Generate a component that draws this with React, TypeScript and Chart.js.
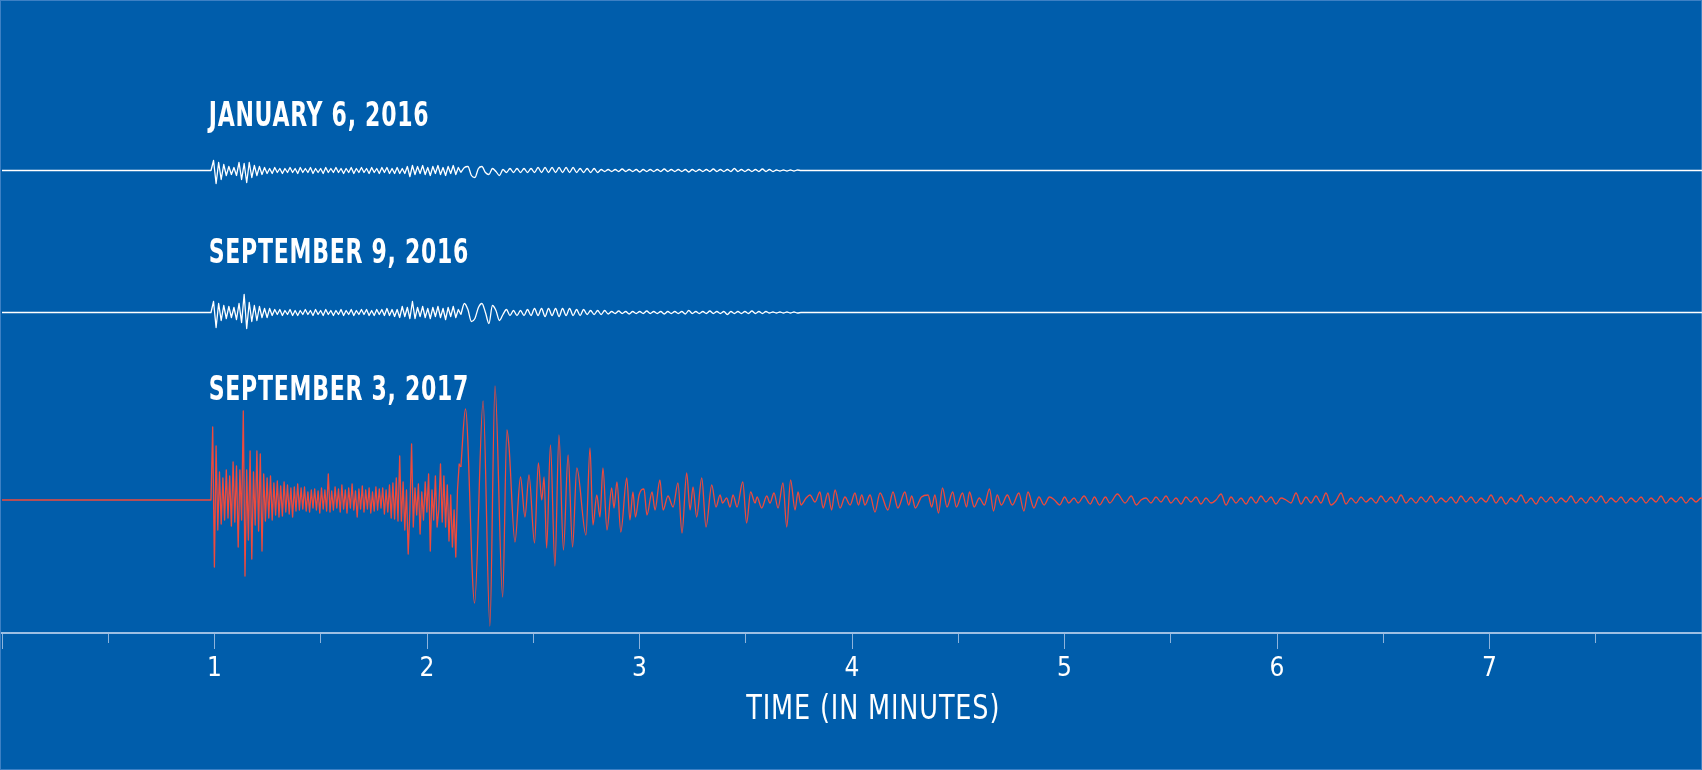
import { useEffect, useRef } from 'react';
import { Chart, registerables } from 'chart.js';

Chart.register(...registerables);

// ---------- axis ----------
const minuteTicks = [0, 1, 2, 3, 4, 5, 6, 7];
const minuteTickLabels = ['', '1', '2', '3', '4', '5', '6', '7'];
const halfMinuteTicks = [0, 0.5, 1, 1.5, 2, 2.5, 3, 3.5, 4, 4.5, 5, 5.5, 6, 6.5, 7, 7.5];
const axisTitle = 'TIME (IN MINUTES)';

// ---------- traces ----------
const traceNames = ['JANUARY 6, 2016', 'SEPTEMBER 9, 2016', 'SEPTEMBER 3, 2017'];
const traceBaselines = [329.5, 187.5, 0]; // amplitude units
const labelLevels = [374, 237, 100];
const onsetTime = 0.9835; // minutes

// January 6, 2016
const jan2016CodaStep = 0.012;
const jan2016Coda = [
  0, 10, -13, 8, -9, 6, -5, 4, -4, 3,
  -5, 8, -9, 7, -12, 8, -7, 5, -5, 4,
  -4, 3, -3, 2, -3, 3, -2,
  2, -3, 2, -2, 3, -2, 2, -3, 3, -2,
  2, -2, 3, -3, 2, -2, 2, -3, 3, -2,
  2, -2, 3, -2, 2, -3, 2, -2, 3, -3,
  2, -2, 3, -2, 2, -3, 3, -2, 2, -3,
  3, -2, 3, -3, 2, -3, 3, -3, 2, -3,
  4, -6, 5, -4, 4, -3, 5, -4, 3, -5,
  4, -3, 5, -4, 3, -5, 4, -3, 5, -4,
  3, -2,
];
const jan2016SurfaceStep = 0.0165;
const jan2016Surface = [
  -2, 3, 4, -5, -7, 2, 4, -2, -4, 2,
  -1, -5, 1, -2, 2, -2, 2, -2, 2, -2,
  2, -2, 3, -2, 3, -2, 3, -2, 3, -2,
  3, -2, 3, -2, 2, -2, 2, -2, 2, -2,
  1, -1,
  1, -1, 1, -1, 1.5, -1, 1, -1, 1, -1.5,
  1, -1, 1, -1, 1, -1, 1.5, -1, 1, -1,
  1, -1, 1, -1.5, 1, -1, 1, -1, 1, -1,
  1.5, -1, 1, -1, 1, -1, 2, -1, 1, -1,
  1, -1, 1, -1, 1.5, -1, 1, -1, 0.5, -0.5,
  0.5, -0.5, 0.5, -0.5, 0.5, 0,
];

// September 9, 2016
const sep2016CodaStep = 0.012;
const sep2016Coda = [
  0, 11, -15, 9, -8, 7, -6, 6, -5, 5,
  -7, 9, -10, 18, -16, 10, -9, 7, -8, 6,
  -5, 4, -5, 4, -3, 3,
  -2, 3, -3, 2, -2, 3, -3, 2, -3, 2,
  -2, 3, -2, 2, -3, 3, -2, 2, -3, 3,
  -2, 2, -3, 2, -2, 3, -3, 2, -2, 3,
  -3, 2, -2, 3, -2, 3, -3, 2, -3, 3,
  -2, 3, -3, 4, -3, 3, -4, 3,
  -5, 6, -4, 5, -6, 11, -6, 5, -4, 6,
  -5, 4, -6, 5, -4, 6, -5, 4, -7, 5,
  -4, 6, -5, 3, -2,
];
const sep2016SurfaceStep = 0.0165;
const sep2016Surface = [
  -2, 9, 3, -9, -6, 5, 9, 0, -11, 7,
  2, -8, -2, 3, -3, 2, -3, 2, -3, 3,
  -3, 4, -3, 4, -4, 4, -3, 4, -4, 4,
  -3, 4, -3, 3, -3, 3, -2, 2, -2, 2,
  -2, 2,
  -1.5, 1, -1, 1.5, -1, 1, -1.5, 1, -1, 1,
  -1, 1.5, -1, 1, -1, 1, -1.5, 1, -1, 1,
  -1, 1, -1.5, 2, -1, 1, -1, 1, -1, 1.5,
  -1, 1, -1, 1, -2, 1, -1, 1, -1, 1,
  -1, 1.5, -1, 1, -1, 1, -0.5, 0.5, -0.5, 0.5,
  -0.5, 0.5, -0.5, 0.5, -0.5, 0,
];

// September 3, 2017
const sep2017CodaStep = 0.008;
const sep2017Coda = [
  0, 73, -67, 54, -30, 28, -24, 22, -20, 30,
  -18, 24, -26, 38, -22, 34, -47, 30, -20, 89,
  -76, 30, -40, 49, -59, 28, -25, 49, -31, 46,
  -51, 26, -21, 22, -18, 24, -20, 17, -15, 19,
  -17, 14, -16, 18, -12, 15, -14, 12, -17, 13,
  -11, 16, -10, 12, -9, 13, -11, 8, -12, 10,
  -8, 11, -10, 9, -13, 12, -9, 10, -11, 26,
  -12, 9, -10, 13, -8, 11, -12, 15, -9, 10,
  -13, 12, -8, 16, -10, 9, -17, 11, -9, 14,
  -12, 10, -9, 12, -13, 8, -11, 13, -10, 11,
  -8, 12, -14, 10, -12, 15, -18, 17, -19, 22,
  -21, 44, -21, 18, -30, 10, -54, -10, 56, -27,
  12, -15, 16, -34, 8, -20, 18, -12, 26, -51,
  10, -20, 24, -27, -10, 36, -22, 24, -27, 15,
  -41, 5, -47, -10, -57, 10, 36, 33,
];
// surface-wave turning points: [minutes, amplitude]
const sep2017SurfacePeaks: [number, number][] = [
  [2.181, 91], [2.224, -103], [2.264, 99], [2.296, -126], [2.32, 114],
  [2.356, -97], [2.376, 70], [2.386, 53], [2.414, -42], [2.44, 23],
  [2.461, -17], [2.48, 25], [2.506, -43], [2.524, 37], [2.54, 0],
  [2.551, 23], [2.563, -48], [2.581, 55], [2.602, -66], [2.621, 65],
  [2.642, -50], [2.664, 45], [2.685, -47], [2.705, 32], [2.748, -35],
  [2.767, 52], [2.781, -25], [2.799, 5], [2.814, -17], [2.828, 32],
  [2.847, -30], [2.869, 12], [2.88, -8], [2.894, 18], [2.912, -32],
  [2.94, 22], [2.955, -20], [2.969, 8], [2.981, -17], [2.998, 5],
  [3.021, 11], [3.035, -15], [3.059, 8], [3.073, -10], [3.096, 20],
  [3.111, -10], [3.134, 4], [3.158, -7], [3.181, 17], [3.2, -33],
  [3.222, 27], [3.238, -10], [3.252, 13], [3.269, -17], [3.293, 22],
  [3.313, -27], [3.34, 15], [3.36, -7], [3.379, 5], [3.391, -3],
  [3.41, 2], [3.426, -7], [3.44, 5], [3.459, -7], [3.486, 18],
  [3.504, -23], [3.523, 8], [3.544, -3], [3.553, 3], [3.575, -8],
  [3.599, 4], [3.614, -3], [3.633, 7], [3.652, -8], [3.675, 17],
  [3.693, -27], [3.711, 20], [3.732, -10], [3.746, 8], [3.76, -5],
  [3.784, 2], [3.802, 5], [3.826, -2], [3.849, 8], [3.864, -8],
  [3.887, 7], [3.904, -10], [3.92, 10], [3.944, -8], [3.967, 3],
  [3.991, -5], [4.014, 7], [4.03, -5], [4.046, 5], [4.061, -5],
  [4.085, 5], [4.108, -12], [4.132, 7], [4.169, -10], [4.193, 8],
  [4.216, -8], [4.249, 8], [4.267, -5], [4.281, 4], [4.298, -8],
  [4.327, 3], [4.358, 5], [4.375, -7], [4.39, 5], [4.407, -13],
  [4.426, 12], [4.447, -7], [4.474, 8], [4.491, -7], [4.52, 7],
  [4.539, -7], [4.553, 8], [4.575, -7], [4.599, 2], [4.623, -5],
  [4.647, 11], [4.666, -11], [4.683, 5], [4.703, -5], [4.731, 5],
  [4.755, -5], [4.785, 7], [4.809, -11], [4.828, 8], [4.856, -8],
  [4.88, 3], [4.904, -5], [4.929, 3], [4.953, 0], [4.977, -5],
  [5.001, 3], [5.02, -3], [5.045, 2], [5.064, -3], [5.092, 4],
  [5.121, -4], [5.141, 3], [5.165, -5], [5.193, 3], [5.213, -3],
  [5.249, 6], [5.285, -3], [5.314, 4], [5.338, -5], [5.36, 0],
];
const sep2017TailStart = 5.3835;
const sep2017TailStep = 0.02353;
const sep2017Tail = [
  2, -3, 3, -2, 4, -3, 2, -4, 3, -2,
  3, -4, 2, -3, 0, 6, -5, 3, -3, 2,
  -4, 3, -3, 4, -2, 3, -4, 2, 0, -3,
  7, -4, 3, -3, 4, -3, 7, -5, -1, 7,
  -4, 2, -3, 3, -2, 2, -3, 4, -2, 3,
  -3, 5, -3, 2, -3, 3, -2, 4, -3, 2,
  -2, 3, -3, 4, -2, 3, -3, 2, -2, 5,
  -3, 3, -4, 2, -2, 5, -3, 2, -4, 3,
  -2, 3, -3, 2, -2, 4, -3, 2, -3, 3,
  -2, 4, -3, 2, -2, 3, -3, 2, -2, 3,
  -3, 2, -2, 4, -3, 2, -2, 3, -3, 2,
  -2, 2, 0,
];

// ---------- styles ----------
const BG = '#005DAB';
const WHITE = '#FFFFFF';
const RED = '#EF4A3C';
const AXIS = '#9DBFE3';
const TICK = '#8DB3DC';
const FONT = '"DejaVu Sans Condensed", "Liberation Sans", sans-serif';

type Pt = { x: number; y: number };
function sampled(start: number, step: number, values: number[], offset: number): Pt[] {
  return values.map((v, i) => ({ x: start + i * step, y: v + offset }));
}

function buildDatasets() {
  const sets: any[] = [];
  const whites = [
    { coda: jan2016Coda, codaStep: jan2016CodaStep, surf: jan2016Surface, surfStep: jan2016SurfaceStep },
    { coda: sep2016Coda, codaStep: sep2016CodaStep, surf: sep2016Surface, surfStep: sep2016SurfaceStep },
  ];
  whites.forEach((w, i) => {
    const off = traceBaselines[i];
    const coda = [{ x: 0, y: off }, ...sampled(onsetTime, w.codaStep, w.coda, off)];
    const codaEnd = onsetTime + (w.coda.length - 1) * w.codaStep;
    const surf = [...sampled(codaEnd, w.surfStep, w.surf, off), { x: 8, y: off }];
    sets.push({ label: traceNames[i], data: coda, borderColor: WHITE, borderWidth: 1.3, tension: 0 });
    sets.push({ label: traceNames[i] + ' surface', data: surf, borderColor: WHITE, borderWidth: 1.3, cubicInterpolationMode: 'monotone' });
  });
  const off = traceBaselines[2];
  const coda = [{ x: 0, y: off }, ...sampled(onsetTime, sep2017CodaStep, sep2017Coda, off)];
  const last = coda[coda.length - 1];
  const waves = [
    last,
    ...sep2017SurfacePeaks.map(([t, v]) => ({ x: t, y: v + off })),
    ...sampled(sep2017TailStart, sep2017TailStep, sep2017Tail, off),
  ];
  sets.push({ label: traceNames[2], data: coda, borderColor: RED, borderWidth: 1.3, tension: 0 });
  sets.push({ label: traceNames[2] + ' surface', data: waves, borderColor: RED, borderWidth: 1.3, cubicInterpolationMode: 'monotone' });
  return sets;
}

function condensedText(ctx: CanvasRenderingContext2D, text: string, x: number, y: number, squeeze: number) {
  ctx.save();
  ctx.translate(x, y);
  ctx.scale(squeeze, 1);
  ctx.fillText(text, 0, 0);
  ctx.restore();
}

const labelPlugin = {
  id: 'seismoLabels',
  afterDraw(chart: any) {
    const { ctx, scales } = chart;
    const x = scales.x;
    const y = scales.y;
    ctx.save();
    ctx.fillStyle = WHITE;
    ctx.textBaseline = 'alphabetic';
    ctx.textAlign = 'left';
    ctx.font = `bold 34px ${FONT}`;
    ctx.letterSpacing = '1px';
    traceNames.forEach((name, i) => {
      condensedText(ctx, name, x.getPixelForValue(0.973), y.getPixelForValue(labelLevels[i]), 0.72);
    });
    ctx.textAlign = 'center';
    ctx.font = `33px ${FONT}`;
    ctx.letterSpacing = '1px';
    condensedText(ctx, axisTitle, x.getPixelForValue(4.1), x.top + 86, 0.86);
    ctx.restore();
  },
};

const noSidePadding = (s: any) => { s.paddingLeft = 0; s.paddingRight = 0; };

export default function App() {
  const ref = useRef<HTMLCanvasElement | null>(null);
  useEffect(() => {
    if (!ref.current) return;
    const chart = new Chart(ref.current, {
      type: 'line',
      data: { datasets: buildDatasets() },
      options: {
        animation: false,
        responsive: false,
        devicePixelRatio: 1,
        layout: { autoPadding: false, padding: { left: 2, right: 0, top: 0, bottom: 0 } },
        elements: { point: { radius: 0, hoverRadius: 0 }, line: { borderJoinStyle: 'round' } },
        plugins: { legend: { display: false }, tooltip: { enabled: false }, title: { display: false } },
        scales: {
          xMinor: {
            type: 'linear', position: 'bottom', min: 0, max: 8, weight: 0,
            afterBuildTicks: (s: any) => { s.ticks = halfMinuteTicks.map((value) => ({ value })); },
            afterFit: (s: any) => { s.height = 0; noSidePadding(s); },
            ticks: { display: false, padding: 0 },
            grid: { drawOnChartArea: false, drawTicks: true, tickLength: 10, tickColor: TICK, tickWidth: 1 },
            border: { display: false },
          },
          x: {
            type: 'linear', position: 'bottom', min: 0, max: 8, weight: 1,
            afterBuildTicks: (s: any) => { s.ticks = minuteTicks.map((value) => ({ value })); },
            afterFit: (s: any) => { s.height = 137; noSidePadding(s); },
            ticks: {
              autoSkip: false, maxRotation: 0, padding: 5, color: WHITE,
              font: { family: FONT, size: 26 },
              callback: (value: any) => minuteTickLabels[minuteTicks.indexOf(Number(value))] ?? '',
            },
            grid: { drawOnChartArea: false, drawTicks: true, tickLength: 16, tickColor: TICK, tickWidth: 1 },
            border: { display: true, color: AXIS, width: 2 },
          },
          y: { type: 'linear', min: -133, max: 500, display: false },
        },
      } as any,
      plugins: [labelPlugin],
    });
    return () => chart.destroy();
  }, []);
  return (
    <div
      style={{
        position: 'fixed', left: 0, top: 0, width: 1702, height: 770,
        background: BG, boxShadow: 'inset 0 0 0 1px #3D80C4',
      }}
    >
      <canvas ref={ref} width={1702} height={770} style={{ width: 1702, height: 770, display: 'block' }} />
    </div>
  );
}
